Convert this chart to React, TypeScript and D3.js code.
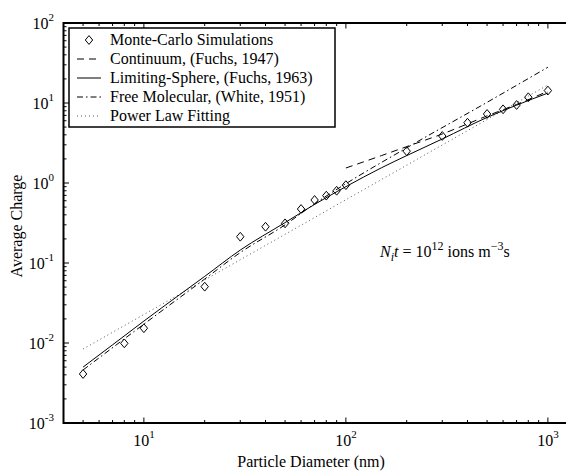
import React from 'react';
import * as d3 from 'd3';

// Monte-Carlo simulation points
const mcDiameter = [5, 8, 10, 20, 30, 40, 50, 60, 70, 80, 90, 100, 200, 300, 400, 500, 600, 700, 800, 1000];
const mcCharge = [0.0041, 0.0099, 0.0153, 0.0506, 0.213, 0.284, 0.313, 0.473, 0.613, 0.695, 0.8, 0.94, 2.5, 3.87, 5.67, 7.29, 8.34, 9.44, 11.8, 14.3];

// Limiting-Sphere (Fuchs, 1963)
const limitDiameter = [5, 7, 10, 15, 20, 30, 50, 70, 100, 150, 200, 300, 500, 700, 1000];
const limitCharge = [0.005, 0.0095, 0.0188, 0.04, 0.068, 0.145, 0.32, 0.54, 0.9, 1.55, 2.2, 3.55, 6.6, 9.4, 13.3];

// Free Molecular (White, 1951)
const fmDiameter = [5, 10, 20, 30, 50, 70, 100, 200, 500, 1000];
const fmCharge = [0.0046, 0.0172, 0.063, 0.135, 0.3, 0.55, 0.98, 2.75, 10.2, 28];

// Continuum (Fuchs, 1947)
const contDiameter = [100, 150, 200, 300, 500, 700, 1000];
const contCharge = [1.54, 2.2, 2.85, 4.1, 6.9, 9.6, 14.0];

// Power law fitting
const plDiameter = [5, 1000];
const plCharge = [0.0084, 16.8];

const xMajor = [10, 100, 1000];
const xMajorExp = ['1', '2', '3'];
const yMajor = [1e-3, 1e-2, 1e-1, 1, 10, 100];
const yMajorExp = ['-3', '-2', '-1', '0', '1', '2'];

const legendLabels = [
  'Monte-Carlo Simulations',
  'Continuum, (Fuchs, 1947)',
  'Limiting-Sphere, (Fuchs, 1963)',
  'Free Molecular, (White, 1951)',
  'Power Law Fitting',
];

const FONT = '"Liberation Serif", "Times New Roman", "DejaVu Serif", serif';

export default function App() {
  const W = 566, H = 471;
  const left = 63.5, top = 23, bottom = 423;
  const decade = 202;
  const xMin = 4, xMaxLog = 3.1;
  const x = d3.scaleLog().domain([xMin, Math.pow(10, xMaxLog)])
    .range([left, left + decade * (xMaxLog - Math.log10(xMin))]);
  const y = d3.scaleLog().domain([1e-3, 1e2]).range([bottom, top]);
  const right = x.range()[1];

  const mk = (ds: number[], qs: number[], curve = true) => {
    const g = d3.line<[number, number]>().x(d => x(d[0])).y(d => y(d[1]));
    if (curve) g.curve(d3.curveMonotoneX);
    return g(ds.map((d, i) => [d, qs[i]] as [number, number])) || '';
  };

  const xMinor: number[] = [];
  [1, 10, 100, 1000].forEach(dec => {
    for (let m = 2; m <= 9; m++) {
      const v = m * dec;
      if (v > xMin && v < Math.pow(10, xMaxLog)) xMinor.push(v);
    }
  });
  const yMinor: number[] = [];
  [1e-3, 1e-2, 1e-1, 1, 10].forEach(dec => {
    for (let m = 2; m <= 9; m++) yMinor.push(m * dec);
  });

  const diamond = (cx: number, cy: number) =>
    `M${cx},${cy - 4.4}L${cx + 3.7},${cy}L${cx},${cy + 4.4}L${cx - 3.7},${cy}Z`;

  const styles = [
    { dash: '7,5', w: 1, c: '#000' },
    { dash: '', w: 1, c: '#000' },
    { dash: '6,3,1.5,3', w: 1, c: '#000' },
    { dash: '1,3', w: 0.9, c: '#444' },
  ];

  const legX = 69, legY = 28, legW = 266, legH = 99;
  const rowBase = [45, 64, 83, 102, 121];

  return (
    <svg width={W} height={H}
      style={{ position: 'absolute', left: 0, top: 0, background: '#fff', fontFamily: FONT }}>
      <rect x={0} y={0} width={W} height={H} fill="#fff" />
      <defs>
        <clipPath id="plot">
          <rect x={left} y={top} width={right - left} height={bottom - top} />
        </clipPath>
      </defs>

      <g clipPath="url(#plot)" fill="none">
        <path d={mk(plDiameter, plCharge, false)} stroke={styles[3].c} strokeWidth={styles[3].w} strokeDasharray={styles[3].dash} />
        <path d={mk(fmDiameter, fmCharge)} stroke="#000" strokeWidth={1} strokeDasharray={styles[2].dash} />
        <path d={mk(contDiameter, contCharge)} stroke="#000" strokeWidth={1} strokeDasharray={styles[0].dash} />
        <path d={mk(limitDiameter, limitCharge)} stroke="#000" strokeWidth={1} />
        {mcDiameter.map((d, i) => (
          <path key={i} d={diamond(x(d), y(mcCharge[i]))} stroke="#000" strokeWidth={1} fill="none" />
        ))}
      </g>

      {/* ticks */}
      <g stroke="#000" strokeWidth={1}>
        {xMinor.map((v, i) => (
          <g key={'xm' + i}>
            <line x1={x(v)} x2={x(v)} y1={bottom} y2={bottom - 3} />
            <line x1={x(v)} x2={x(v)} y1={top} y2={top + 3} />
          </g>
        ))}
        {xMajor.map((v, i) => (
          <g key={'xM' + i}>
            <line x1={x(v)} x2={x(v)} y1={bottom} y2={bottom - 5.5} />
            <line x1={x(v)} x2={x(v)} y1={top} y2={top + 5.5} />
          </g>
        ))}
        {yMinor.map((v, i) => (
          <line key={'ym' + i} x1={left} x2={left + 3} y1={y(v)} y2={y(v)} />
        ))}
        {yMajor.map((v, i) => (
          <line key={'yM' + i} x1={left} x2={left + 5.5} y1={y(v)} y2={y(v)} />
        ))}
      </g>

      {/* frame */}
      <g stroke="#000" strokeWidth={2} fill="none">
        <line x1={left} x2={right + 5} y1={bottom} y2={bottom} />
        <line x1={left} x2={right + 5} y1={top} y2={top} />
        <line x1={left} x2={left} y1={top - 1} y2={bottom + 1} />
        <line x1={right} x2={right} y1={top} y2={bottom} />
      </g>

      {/* tick labels */}
      <g fontSize={16} fill="#000">
        {xMajor.map((v, i) => (
          <text key={'xl' + i} x={x(v)} y={446} textAnchor="middle">
            10<tspan fontSize={11} dy={-8}>{xMajorExp[i]}</tspan>
          </text>
        ))}
        {yMajor.map((v, i) => (
          <text key={'yl' + i} x={54} y={y(v) + 5.5} textAnchor="end">
            10<tspan fontSize={11} dy={-8}>{yMajorExp[i]}</tspan>
          </text>
        ))}
      </g>

      {/* axis titles */}
      <text x={311} y={467} fontSize={16} textAnchor="middle">Particle Diameter (nm)</text>
      <text transform={`translate(22,226) rotate(-90)`} fontSize={16} textAnchor="middle">Average Charge</text>

      {/* annotation */}
      <text x={380} y={257} fontSize={16}>
        <tspan fontStyle="italic">N</tspan>
        <tspan fontStyle="italic" fontSize={12} dy={4}>i</tspan>
        <tspan fontStyle="italic" dy={-4}>t</tspan>
        <tspan> = 10</tspan>
        <tspan fontSize={12} dy={-7}>12</tspan>
        <tspan dy={7}> ions m</tspan>
        <tspan fontSize={12} dy={-7}>−3</tspan>
        <tspan dy={7}>s</tspan>
      </text>

      {/* legend */}
      <rect x={legX} y={legY} width={legW} height={legH} fill="#fff" stroke="#000" strokeWidth={1.5} />
      <path d={diamond(89, rowBase[0] - 5)} stroke="#000" strokeWidth={1} fill="none" />
      {styles.map((s, i) => (
        <line key={'ll' + i} x1={77} x2={101} y1={rowBase[i + 1] - 5} y2={rowBase[i + 1] - 5}
          stroke={s.c} strokeWidth={s.w} strokeDasharray={s.dash || undefined} />
      ))}
      {legendLabels.map((t, i) => (
        <text key={'lt' + i} x={110} y={rowBase[i]} fontSize={16}>{t}</text>
      ))}
    </svg>
  );
}
